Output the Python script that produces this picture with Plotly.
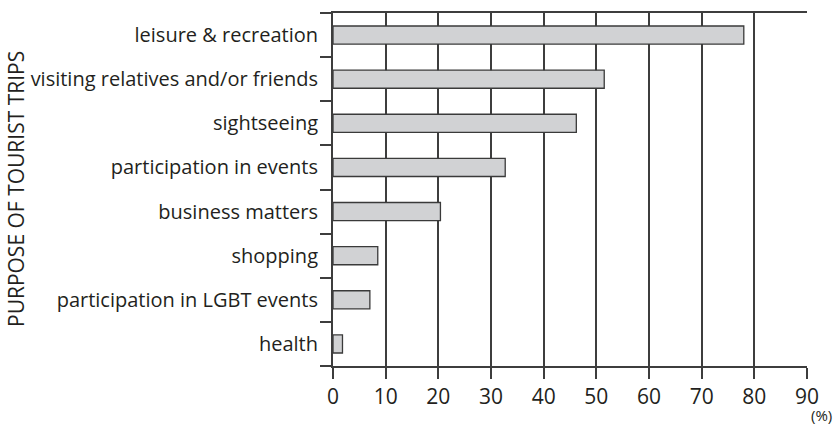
import plotly.graph_objects as go

categories = [
    "leisure & recreation",
    "visiting relatives and/or friends",
    "sightseeing",
    "participation in events",
    "business matters",
    "shopping",
    "participation in LGBT events",
    "health",
]
values = [78.0, 51.5, 46.2, 32.7, 20.4, 8.5, 7.0, 1.8]
x_ticks = [0, 10, 20, 30, 40, 50, 60, 70, 80, 90]
y_title = "PURPOSE OF TOURIST TRIPS"
unit_label = "(%)"

FONT = "Open Sans"
TXT = "#231f20"
LINE = "#3d3d3d"

fig = go.Figure()
fig.add_trace(go.Bar(
    y=categories,
    x=values,
    orientation="h",
    width=0.41,
    marker=dict(color="#d1d2d4", line=dict(color="#3a3a3a", width=1.3)),
))

W, H = 836, 425
L, R, T, B = 333, 29, 13, 59
pw = W - L - R
ph = H - T - B

fig.update_layout(
    width=W, height=H,
    margin=dict(l=L, r=R, t=T, b=B, pad=0),
    paper_bgcolor="white", plot_bgcolor="white",
    showlegend=False,
    font=dict(family=FONT, color=TXT, size=20),
    xaxis=dict(
        range=[0, 90], tickvals=x_ticks, ticktext=[str(v) for v in x_ticks],
        showgrid=True, gridcolor=LINE, gridwidth=2,
        zeroline=False,
        showline=True, linecolor=LINE, linewidth=2, mirror=True,
        ticks="outside", ticklen=11, tickcolor=LINE, tickwidth=2,
        tickfont=dict(size=21, family=FONT, color=TXT),
        fixedrange=True,
    ),
    yaxis=dict(
        categoryorder="array", categoryarray=categories[::-1],
        autorange=False, range=[-0.5, len(categories) - 0.5],
        showgrid=False, zeroline=False,
        showline=True, linecolor=LINE, linewidth=2,
        ticks="outside", tickson="boundaries", ticklen=11,
        tickcolor=LINE, tickwidth=2,
        ticklabelstandoff=9,
        tickfont=dict(size=20, family=FONT, color=TXT),
        fixedrange=True,
    ),
)

fig.add_annotation(
    xref="paper", yref="paper",
    x=(16 - L) / pw, y=(366 - 189) / ph,
    text=y_title, textangle=-90, showarrow=False,
    xanchor="center", yanchor="middle",
    font=dict(size=21, family=FONT, color=TXT),
)
fig.add_annotation(
    xref="paper", yref="paper",
    x=(821 - L) / pw, y=(366 - 415) / ph,
    text=unit_label, showarrow=False,
    xanchor="center", yanchor="middle",
    font=dict(size=15, family=FONT, color=TXT),
)

fig.write_html(
    "out.html",
    config={"displayModeBar": False, "staticPlot": True},
    post_script="document.body.style.margin='0px';",
)
